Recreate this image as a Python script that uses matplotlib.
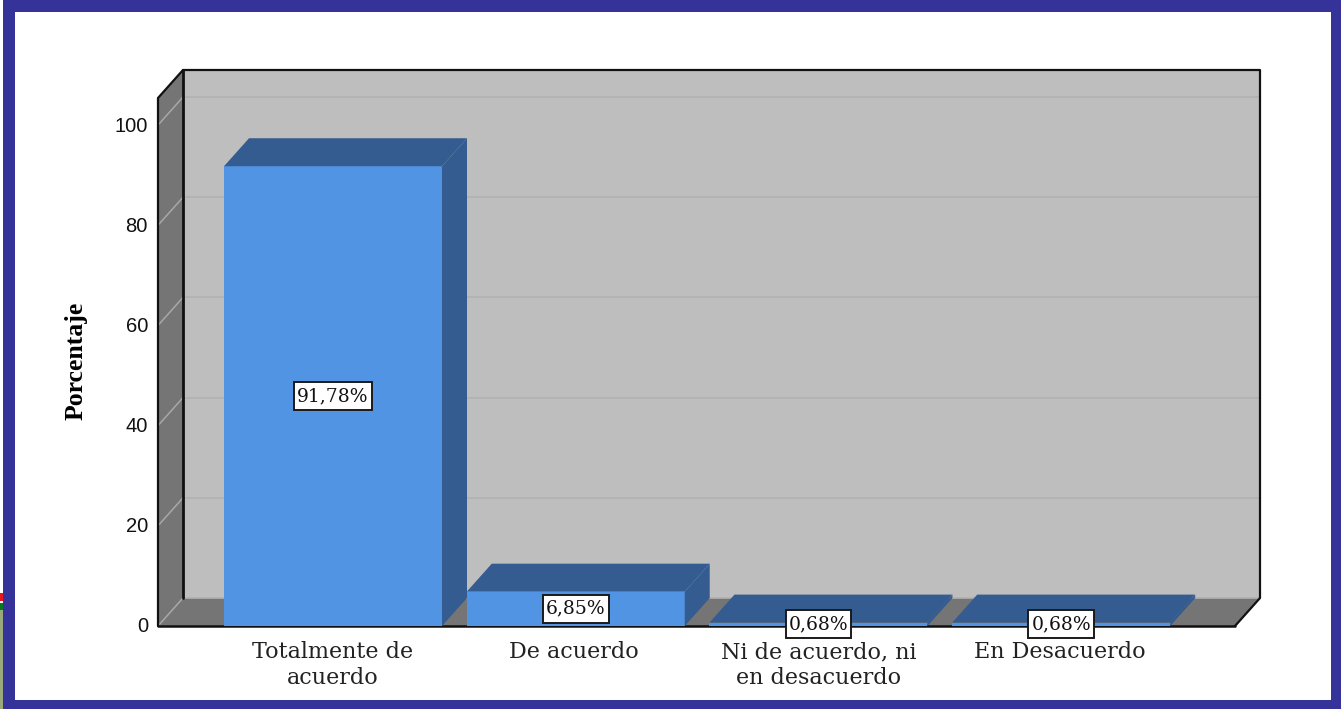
import matplotlib
matplotlib.use('Agg')
import matplotlib.pyplot as plt
from matplotlib.patches import Polygon, Rectangle
from matplotlib.transforms import IdentityTransform

categories = ['Totalmente de\nacuerdo', 'De acuerdo', 'Ni de acuerdo, ni\nen desacuerdo', 'En Desacuerdo']
values = [91.78, 6.85, 0.68, 0.68]
value_labels = ['91,78%', '6,85%', '0,68%', '0,68%']
y_ticks = [0, 20, 40, 60, 80, 100]

W, H = 1341, 709
BLUE = '#353299'
BAR = '#5294e4'
BAR_DARK = '#345c90'
WALL = '#757575'
BACK = '#bebebe'

fig = plt.figure(figsize=(W / 100, H / 100), dpi=100, facecolor='white')

# window frame and the sliver of desktop showing at the left
fig.patches.append(Rectangle((0, 0), 3 / W, 1, transform=fig.transFigure, fc='#9aa97c', ec='none'))
fig.patches.append(Rectangle((0, (H - 593) / H), 3 / W, 593 / H, transform=fig.transFigure, fc='white', ec='none'))
fig.patches.append(Rectangle((0, (H - 601) / H), 3 / W, 8 / H, transform=fig.transFigure, fc='#e8181c', ec='none'))
fig.patches.append(Rectangle((0, (H - 603) / H), 3 / W, 2 / H, transform=fig.transFigure, fc='white', ec='none'))
fig.patches.append(Rectangle((0, (H - 610) / H), 3 / W, 7 / H, transform=fig.transFigure, fc='#0a7a1e', ec='none'))
for x0, y0, w, h in [(3, 0, 12, H), (1331, 0, 10, H), (3, H - 12, W - 3, 12), (3, 0, W - 3, 9)]:
    fig.patches.append(Rectangle((x0 / W, y0 / H), w / W, h / H, transform=fig.transFigure, fc=BLUE, ec='none'))

# the axes are the front plane of the 3D box
left, right, bottom, top = 158, 1235, 626, 98
ax = fig.add_axes([left / W, (H - bottom) / H, (right - left) / W, (bottom - top) / H])
ax.set_xlim(-0.721, 3.716)
ax.set_ylim(0, 105.4)
ax.patch.set_visible(False)
for s in ax.spines.values():
    s.set_visible(False)

# depth offset of the box, in data units
dx, dy = 0.103, 5.59
xa, xb = ax.get_xlim()
ya, yb = ax.get_ylim()


def poly(pts, **kw):
    ax.add_patch(Polygon(pts, closed=True, clip_on=False, **kw))


def line(xs, ys, color='#111111', lw=1.6, z=5):
    ax.plot(xs, ys, color=color, lw=lw, clip_on=False, zorder=z, solid_capstyle='round')


# back wall, left wall, floor
poly([(xa + dx, ya + dy), (xb + dx, ya + dy), (xb + dx, yb + dy), (xa + dx, yb + dy)], fc=BACK, ec='none', zorder=1)
poly([(xa, ya), (xa + dx, ya + dy), (xa + dx, yb + dy), (xa, yb)], fc=WALL, ec='none', zorder=1)
poly([(xa, ya), (xb, ya), (xb + dx, ya + dy), (xa + dx, ya + dy)], fc=WALL, ec='none', zorder=1)

for t in y_ticks:
    line([xa + dx, xb + dx], [t + dy, t + dy], color='#b1b1b1', lw=1.2, z=2)
    line([xa, xa + dx], [t, t + dy], color='#a8a8a8', lw=1.1, z=2)

# box outline
line([xa, xa, xa + dx], [ya, yb, yb + dy], lw=1.6)
line([xa + dx, xa + dx], [ya + dy, yb + dy], lw=2.0)
line([xa + dx, xb + dx, xb + dx, xb], [yb + dy, yb + dy, ya + dy, ya], lw=1.6)
line([xa, xb], [ya, ya], lw=1.8, z=3)

# 3D bars
bar_w = 0.898
renderer = fig.canvas.get_renderer()
for i, v in enumerate(values):
    x0, x1 = i - bar_w / 2, i + bar_w / 2
    ax.bar(i, v, width=bar_w, color=BAR, zorder=4)
    poly([(x0, v), (x1, v), (x1 + dx, v + dy), (x0 + dx, v + dy)], fc=BAR_DARK, ec='none', zorder=4)
    poly([(x1, 0), (x1 + dx, dy), (x1 + dx, v + dy), (x1, v)], fc=BAR_DARK, ec='none', zorder=4)
    t = ax.text(i, v / 2, value_labels[i], ha='center', va='center', fontsize=13.5, zorder=7,
                family='DejaVu Serif', color='#111111', clip_on=False)
    # label box is wider than tight text and a fixed height
    ext = t.get_window_extent(renderer)
    cy = (ext.y0 + ext.y1) / 2
    ax.add_patch(Rectangle((ext.x0 - 3, cy - 14), ext.width + 6, 28, transform=IdentityTransform(),
                           fc='white', ec='#1a1a1a', lw=1.4, zorder=6, clip_on=False))

ax.set_xticks([])
ax.set_yticks([])

for t in y_ticks:
    ax.annotate(str(t), (xa, t), xytext=(-10, -1), textcoords='offset pixels', ha='right', va='center',
                fontsize=14.5, family='Liberation Sans', color='#111111', annotation_clip=False)

x_shift = [0, -2, 0, -1]
for i, c in enumerate(categories):
    ax.annotate(c, (i, 0), xytext=(x_shift[i], -15), textcoords='offset pixels', ha='center', va='top',
                fontsize=16, family='DejaVu Serif', color='#222222', linespacing=1.25,
                annotation_clip=False)

fig.text(76 / W, (H - 361) / H, 'Porcentaje', rotation=90, ha='center', va='center',
         fontsize=18.5, fontweight='bold', family='Liberation Serif', color='black')

fig.savefig('out.png', dpi=100, facecolor='white')
